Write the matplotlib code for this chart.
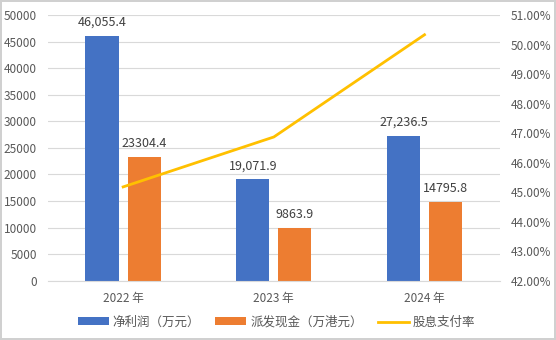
import matplotlib.pyplot as plt
import numpy as np

plt.rcParams['font.family'] = ['Noto Sans CJK SC', 'DejaVu Sans']

years = ['2022 年', '2023 年', '2024 年']
net_profit = [46055.4, 19071.9, 27236.5]
dividend = [23304.4, 9863.9, 14795.8]
payout_ratio = [45.18, 46.87, 50.33]

profit_labels = ['46,055.4', '19,071.9', '27,236.5']
dividend_labels = ['23304.4', '9863.9', '14795.8']

blue = '#4472C4'
orange = '#ED7D31'
yellow = '#FFC000'
grey_text = '#595959'
grid_col = '#D9D9D9'

fig = plt.figure(figsize=(5.56, 3.40), dpi=100, edgecolor='#D0D0D0', linewidth=1.5)
ax = fig.add_axes([0.086, 0.174, 0.813, 0.782])

x = np.arange(len(years))
w = 0.22
off = 0.14
b1 = ax.bar(x - off, net_profit, w, color=blue, label='净利润（万元）', zorder=2)
b2 = ax.bar(x + off, dividend, w, color=orange, label='派发现金（万港元）', zorder=2)

for rect, lab in zip(b1, profit_labels):
    ax.text(rect.get_x() + rect.get_width() / 2, rect.get_height() + 1300, lab,
            ha='center', va='bottom', fontsize=9, color='#404040')
for rect, lab in zip(b2, dividend_labels):
    ax.text(rect.get_x() + rect.get_width() / 2, rect.get_height() + 1300, lab,
            ha='center', va='bottom', fontsize=9, color='#404040')

ax.set_xlim(-0.5, 2.5)
ax.set_ylim(0, 50000)
ax.set_yticks(np.arange(0, 50001, 5000))
ax.set_xticks(x)
ax.set_xticklabels(years)
ax.grid(axis='y', color=grid_col, linewidth=0.8, zorder=0)
for s in ['top', 'left', 'right']:
    ax.spines[s].set_visible(False)
ax.spines['bottom'].set_color(grid_col)
ax.tick_params(axis='both', length=0, labelsize=8.5, colors=grey_text)
ax.tick_params(axis='x', pad=8)
ax.tick_params(axis='y', pad=8)

ax2 = ax.twinx()
ax2.plot(x, payout_ratio, color=yellow, linewidth=2, label='股息支付率', zorder=3)
ax2.set_ylim(42, 51)
ax2.set_yticks(np.arange(42, 51.01, 1))
ax2.set_yticklabels([f'{v:.2f}%' for v in np.arange(42, 51.01, 1)])
for s in ['top', 'left', 'right', 'bottom']:
    ax2.spines[s].set_visible(False)
ax2.tick_params(axis='y', length=0, labelsize=8.5, colors=grey_text, pad=8)

h1, l1 = ax.get_legend_handles_labels()
h2, l2 = ax2.get_legend_handles_labels()
fig.legend(h1 + h2, l1 + l2, loc='lower center', bbox_to_anchor=(0.497, 0.0), ncol=3,
           frameon=False, fontsize=9, handlelength=2.5, handleheight=0.6,
           columnspacing=1.2, handletextpad=0.3, labelcolor=grey_text)

fig.savefig('out.png', dpi=100)
